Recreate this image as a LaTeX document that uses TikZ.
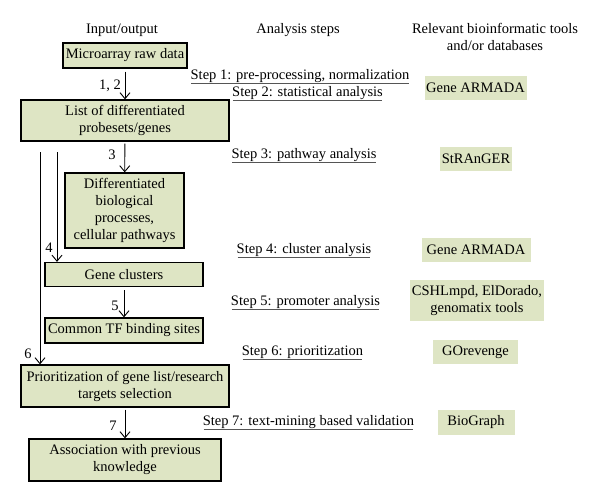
\documentclass[tikz,border=0pt]{standalone}
\usepackage{fontspec}
\setmainfont{Liberation Serif}
\usepackage{xcolor}
\usetikzlibrary{calc, shapes, arrows, arrows.meta}
\definecolor{boxgreen}{HTML}{DEE5C4}
\definecolor{linegray}{HTML}{555555}

\begin{document}
\begin{tikzpicture}[x=1pt, y=-1pt,
	iobox/.style={draw=black, line width=1.3pt, fill=boxgreen, inner sep=0pt, align=center, font=\myfontmain},
	toolbox/.style={fill=boxgreen, inner sep=0pt, align=center, font=\myfontmain},
	stepname/.style={inner sep=0pt, anchor=base, font=\myfontmain},
	flow/.style={-{Straight Barb[length=6pt, width=10pt, line width=0.9pt]}, line width=0.9pt},
	numlabel/.style={inner sep=0pt, anchor=base, font=\myfontmain}]
				\newcommand{\myfontmain}{\fontsize{14.5}{17}\selectfont}%Page frame
				\useasboundingbox (0,0) rectangle (600,501);
				%Column headings
				\node [stepname] (headio) at (122,33) {Input/output};
				\node [stepname] (headsteps) at (298,33) {Analysis steps};
				\node [stepname, align=center] (headtools) at (495,50) {Relevant bioinformatic tools\\and/or databases};
				%Input/output boxes
				\node [iobox, minimum width=124, minimum height=25] (raw) at (125,55.5) {Microarray raw data};
				\node [iobox, minimum width=208, minimum height=41] (list) at (125,120.5) {List of differentiated\\probesets/genes};
				\node [iobox, minimum width=119, minimum height=75] (pathways) at (124.5,210.5) {Differentiated\\biological\\processes,\\cellular pathways};
				\node [iobox, minimum width=158, minimum height=24] (clusters) at (124,274.5) {Gene clusters};
				\node [iobox, minimum width=158, minimum height=25] (tfsites) at (124,330.5) {Common TF binding sites};
				\node [iobox, minimum width=208, minimum height=42] (prior) at (125,386) {Prioritization of gene list/research\\targets selection};
				\node [iobox, minimum width=192, minimum height=42] (assoc) at (125,460) {Association with previous\\knowledge};
				%Arrows between the boxes
				\draw [flow, shorten <=3pt] (raw) -- (list);
				\draw [flow, shorten <=2pt] (list) -- (pathways);
				\draw [flow, shorten <=3pt] (clusters) -- (tfsites);
				\draw [flow, shorten <=2pt] (prior) -- (assoc);
				%Long arrows on the left
				\coordinate (bypass4) at (57,152);
				\coordinate (bypass6) at (40,152);
				\draw [flow] (bypass4) -- (bypass4 |- clusters.north);
				\draw [flow] (bypass6) -- (bypass6 |- prior.north);
				%Step numbers
				\node [numlabel, anchor=base east] (n12) at (121,89) {1, 2};
				\node [numlabel] (n3) at (112,159) {3};
				\node [numlabel] (n4) at (49,252) {4};
				\node [numlabel] (n5) at (115,310) {5};
				\node [numlabel] (n6) at (28,358) {6};
				\node [numlabel] (n7) at (113,430) {7};
				%Analysis steps
				\node [stepname] (step1) at (300,79) {Step 1: pre-processing, normalization};
				\node [stepname] (step2) at (307.5,96) {Step 2: statistical analysis};
				\node [stepname] (step3) at (304,158) {Step 3: pathway analysis};
				\node [stepname] (step4) at (304,253) {Step 4: cluster analysis};
				\node [stepname] (step5) at (305.5,305) {Step 5: promoter analysis};
				\node [stepname] (step6) at (302.5,355) {Step 6: prioritization};
				\node [stepname] (step7) at (308.5,425) {Step 7: text-mining based validation};
				%Underlines
				\foreach \s in {step1,step2,step3,step4,step5,step6,step7} {
					\draw [linegray, line width=1.5pt] ($(\s.base west)+(1,4.5)$) -- ($(\s.base east)+(-1,4.5)$);
				}
				%Tools and databases
				\node [toolbox, minimum width=102, minimum height=24] (armada1) at (475.5,88) {Gene ARMADA};
				\node [toolbox, minimum width=72, minimum height=24] (stranger) at (476,159) {StRAnGER};
				\node [toolbox, minimum width=109, minimum height=24] (armada2) at (476,250) {Gene ARMADA};
				\node [toolbox, minimum width=134, minimum height=41] (cshl) at (477,300.5) {CSHLmpd, ElDorado,\\genomatix tools};
				\node [toolbox, minimum width=85, minimum height=24] (gorevenge) at (475.5,352) {GOrevenge};
				\node [toolbox, minimum width=77, minimum height=25] (biograph) at (476,422.5) {BioGraph};
\end{tikzpicture}
\end{document}
